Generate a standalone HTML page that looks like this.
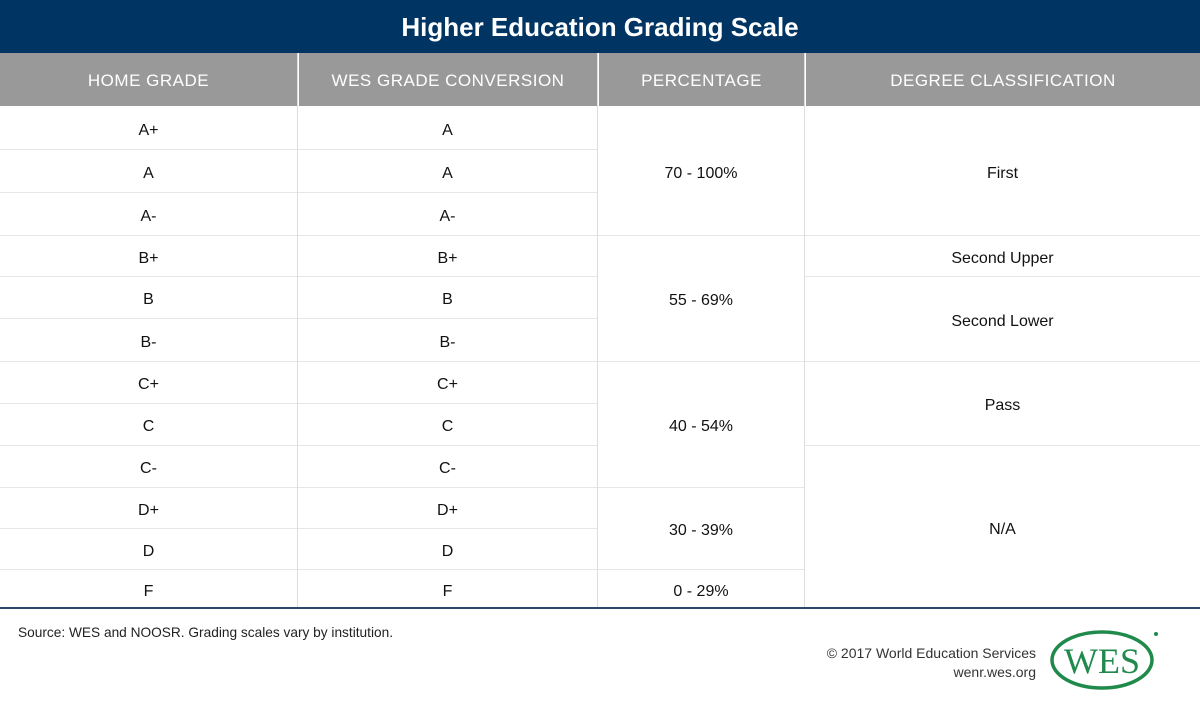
<!DOCTYPE html>
<html><head><meta charset="utf-8"><style>
body{margin:0;width:1200px;height:701px;background:#fff;position:relative;overflow:hidden;font-family:"Liberation Sans",sans-serif;color:#111}
.a{position:absolute;box-sizing:border-box;display:flex;align-items:center;justify-content:center}
#title{left:0;top:0;width:1200px;height:53px;background:#003462;color:#fff;font-weight:bold;font-size:26px;padding-top:2px}
.h{top:53px;height:53px;background:#999;color:#fff;font-size:17px;letter-spacing:.5px;padding-top:3px}
.c{font-size:16px;color:#111;padding-top:6px}
.hl{position:absolute;height:1px;background:#e6e6e6}
.vl{position:absolute;width:1px;background:#ddd}
</style></head><body>
<div id="title" class="a">Higher Education Grading Scale</div>
<div class="a h" style="left:0;width:297px">HOME GRADE</div>
<div class="a h" style="left:299px;width:298px">WES GRADE CONVERSION</div>
<div class="a h" style="left:599px;width:205px">PERCENTAGE</div>
<div class="a h" style="left:806px;width:394px">DEGREE CLASSIFICATION</div>
<div id="grid"></div>
<div style="position:absolute;left:0;top:607px;width:1200px;height:2px;background:#2b4a6b"></div>
<div style="position:absolute;left:18px;top:625px;font-size:13.7px;color:#222">Source: WES and NOOSR. Grading scales vary by institution.</div>
<div style="position:absolute;right:164px;top:644px;font-size:14px;color:#333;text-align:right;line-height:19px">© 2017 World Education Services<br>wenr.wes.org</div>
<svg style="position:absolute;left:1050px;top:628px" width="110" height="64">
<ellipse cx="52" cy="32" rx="50" ry="28" fill="none" stroke="#1f8a4c" stroke-width="3.5"/>
<text x="52" y="45" text-anchor="middle" font-family="Liberation Serif,serif" font-size="36" fill="#1f8a4c">WES</text>
<circle cx="106" cy="6" r="2" fill="#1f8a4c"/>
</svg>
<script>
const home=["A+","A","A-","B+","B","B-","C+","C","C-","D+","D","F"];
const wes=["A","A","A-","B+","B","B-","C+","C","C-","D+","D","F"];
const pct=[["70 - 100%",0,3],["55 - 69%",3,6],["40 - 54%",6,9],["30 - 39%",9,11],["0 - 29%",11,12]];
const deg=[["First",0,3],["Second Upper",3,4],["Second Lower",4,6],["Pass",6,8],["N/A",8,12]];
const ys=[106,149,192,235,276,318,361,403,445,487,528,569,608];
const g=document.getElementById('grid');
function cell(x,w,y0,y1,t,n){const d=document.createElement('div');d.className='a c';
d.style.cssText=`left:${x}px;width:${w}px;top:${y0}px;height:${y1-y0}px`;d.textContent=t;


g.appendChild(d);}
function hl(x,w,y){const d=document.createElement('div');d.className='hl';d.style.cssText=`left:${x}px;width:${w}px;top:${y}px`;


g.appendChild(d);}
home.forEach((t,i)=>{cell(0,297,ys[i],ys[i+1],t,'home-grade-cell');cell(298,299,ys[i],ys[i+1],wes[i],'wes-grade-cell');
if(i>0)hl(0,597,ys[i]);});
pct.forEach(p=>{cell(598,206,ys[p[1]],ys[p[2]],p[0],'percentage-cell');if(p[1]>0)hl(598,206,ys[p[1]]);});
deg.forEach(p=>{cell(805,395,ys[p[1]],ys[p[2]],p[0],'degree-cell');if(p[1]>0)hl(805,395,ys[p[1]]);});
[297,597,804].forEach(x=>{const d=document.createElement('div');d.className='vl';d.style.cssText=`left:${x}px;top:53px;height:555px`;


g.appendChild(d);});
</script>
</body></html>
